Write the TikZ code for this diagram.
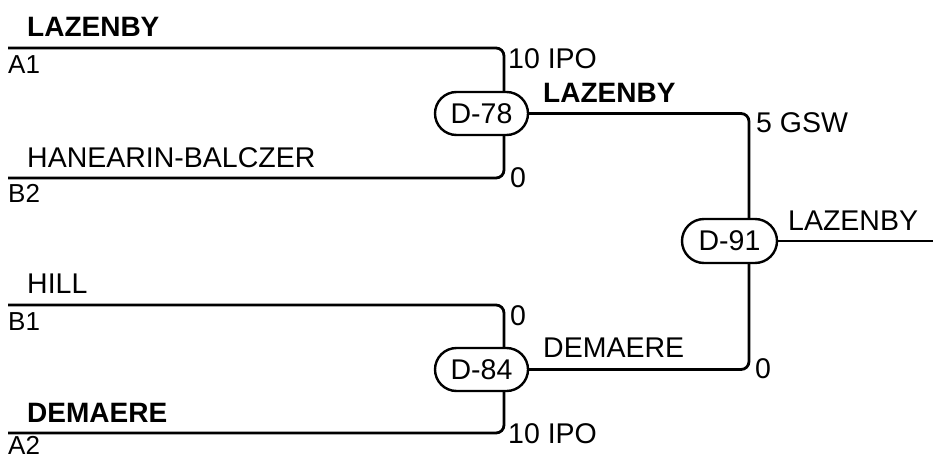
\documentclass[tikz,border=0pt]{standalone}
\usepackage{fontspec}
\setmainfont{Liberation Sans}
\begin{document}
\begin{tikzpicture}[x=1pt,y=-1pt,
  conn/.style={line width=2.8pt, rounded corners=8pt},
  match/.style={draw, line width=2.4pt, fill=white, rounded corners=21.5pt,
    minimum width=93pt, minimum height=43pt, inner sep=0pt,
    font=\fontsize{28.5}{33}\selectfont},
  lbl/.style={anchor=base west, inner sep=0pt, font=\fontsize{28.5}{33}\selectfont},
  slbl/.style={lbl, font=\fontsize{26}{30}\selectfont},
  blbl/.style={lbl, font=\fontsize{28}{33}\selectfont\bfseries}]
\useasboundingbox (0,0) rectangle (933,460);
% match nodes
\node[match] (d78) at (481.5,113.5) {D-78};
\node[match] (d84) at (481.5,369.5) {D-84};
\node[match, minimum width=95pt, minimum height=44pt, rounded corners=22pt] (d91) at (729.5,241) {D-91};
% line ends
\coordinate (a1) at (8,48);
\coordinate (b2) at (8,178);
\coordinate (b1) at (8,305);
\coordinate (a2) at (8,433);
\coordinate (v78) at (504,0);
\coordinate (v84) at (504,0);
\coordinate (v91) at (749,0);
\coordinate (out) at (933,241);
% connectors
\draw[conn] (a1) -| (v78 |- d78.north);
\draw[conn] (b2) -| (v78 |- d78.south);
\draw[conn] (b1) -| (v84 |- d84.north);
\draw[conn] (a2) -| (v84 |- d84.south);
\draw[conn] (d78.east) -| (v91 |- d91.north);
\draw[conn] (d84.east) -| (v91 |- d91.south);
\draw[conn] (d91.east) -- (out);
% left labels
\node[blbl] (t1) at (27,37) {LAZENBY};
\node[slbl] (s1) at (8,73) {A1};
\node[lbl] (t2) at (27,167) {HANEARIN-BALCZER};
\node[slbl] (s2) at (8,202) {B2};
\node[lbl] (t3) at (27,293) {HILL};
\node[slbl] (s3) at (8,330) {B1};
\node[blbl] (t4) at (27,422) {DEMAERE};
\node[slbl] (s4) at (8,454) {A2};
% scores and winners
\node[lbl] (r1) at (508,68) {10 IPO};
\node[lbl] (r2) at (510,187) {0};
\node[blbl] (w1) at (543,102) {LAZENBY};
\node[lbl] (r3) at (510,325) {0};
\node[lbl] (r4) at (508,443) {10 IPO};
\node[lbl] (w2) at (543,357) {DEMAERE};
\node[lbl] (r5) at (756,132) {5 GSW};
\node[lbl] (r6) at (755,378) {0};
\node[lbl] (w3) at (788,230) {LAZENBY};
\end{tikzpicture}
\end{document}
